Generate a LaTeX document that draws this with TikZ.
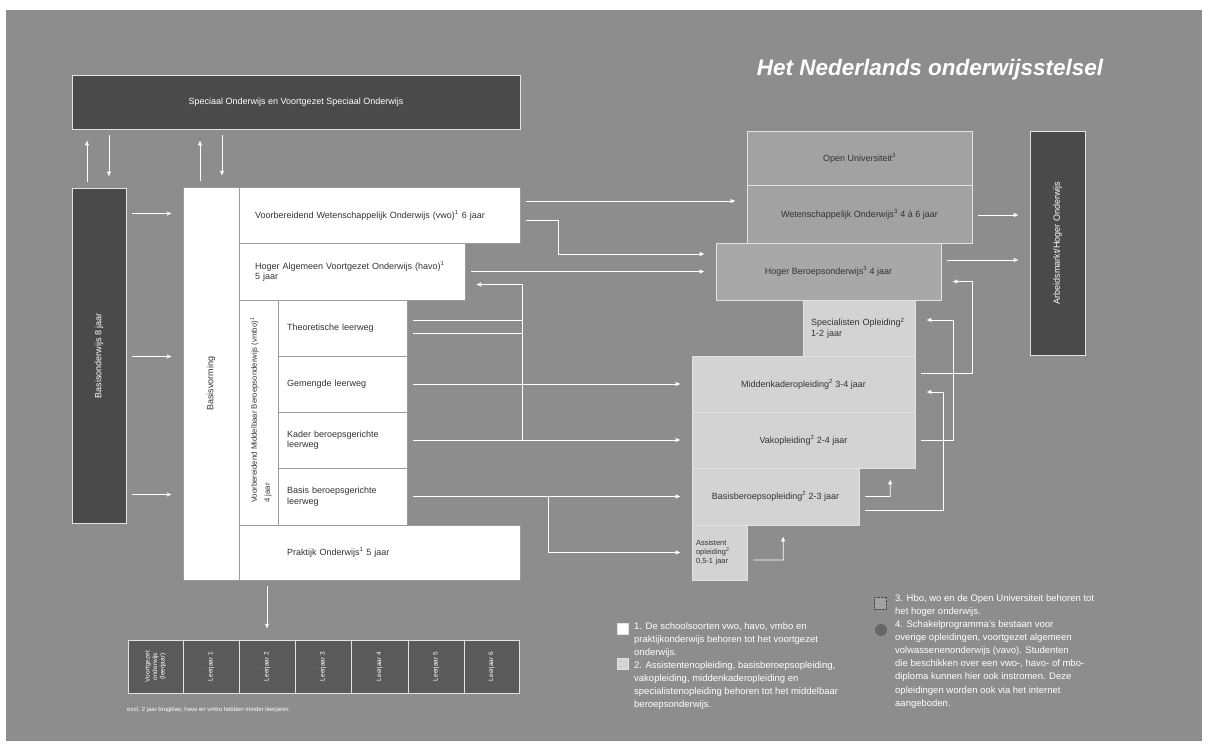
\documentclass[tikz,border=0pt]{standalone}
\usepackage{fontspec}
\setmainfont{Liberation Sans}
\usetikzlibrary{arrows.meta,calc}
\definecolor{bgC}{HTML}{8D8D8D}
\definecolor{darkC}{HTML}{4A4A4A}
\definecolor{rowC}{HTML}{5A5A5A}
\definecolor{woC}{HTML}{A2A2A2}
\definecolor{hboC}{HTML}{A8A8A8}
\definecolor{mboC}{HTML}{D3D3D3}
\definecolor{edgeC}{HTML}{E2E2E2}
\definecolor{sepC}{HTML}{9C9C9C}
\definecolor{txtC}{HTML}{333333}
\newcommand\ftn{\fontsize{9}{10.5}\selectfont}
\newcommand\fsm{\fontsize{6.5}{7.5}\selectfont}
\newcommand\flg{\fontsize{9.5}{13.2}\selectfont}
\begin{document}
\begin{tikzpicture}[x=1pt,y=-1pt,
  dark/.style={draw=edgeC, line width=0.6pt, fill=darkC, text=white, inner sep=0pt, font=\ftn},
  wcell/.style={draw=sepC, line width=0.5pt, fill=white, inner sep=0pt, font=\ftn, text=txtC},
  lcell/.style={wcell, align=left},
  wocell/.style={draw=edgeC, line width=0.7pt, fill=woC, inner sep=0pt, font=\ftn, text=txtC},
  hbocell/.style={wocell, fill=hboC},
  mbocell/.style={draw=edgeC, line width=0.6pt, fill=mboC, inner sep=0pt, font=\ftn, text=txtC},
  rowcell/.style={draw=edgeC, line width=0.5pt, fill=rowC, inner sep=0pt, minimum height=53pt},
  vtext/.style={rotate=90, inner sep=0pt},
  conn/.style={draw=white, line width=0.8pt, -{Latex[length=5pt,width=4.5pt]}, shorten >=11pt, shorten <=6pt},
  plain/.style={draw=white, line width=0.8pt}
]
\useasboundingbox (0,0) rectangle (1208,747);
\fill[white] (0,0) rectangle (1208,747);
\fill[bgC] (6,10) rectangle (1202,741);

% title
\node[text=white, font=\fontsize{22.5}{26}\selectfont\bfseries\itshape] (title) at (930,70) {Het Nederlands onderwijsstelsel};

% top bar
\node[dark, minimum width=448pt, minimum height=54pt] (sos) at (296,102) {Speciaal Onderwijs en Voortgezet Speciaal Onderwijs};

% Basisonderwijs
\node[dark, minimum width=54pt, minimum height=335pt] (basiso) at (99,355.5) {};
\node[vtext, text=white, font=\ftn] (basisotxt) at (basiso) {Basisonderwijs 8 jaar};

% white block
\node[wcell, minimum width=56pt, minimum height=393pt] (bv) at (211,383.5) {};
\node[vtext, font=\ftn, text=txtC] (bvtxt) at (bv) {Basisvorming};
\node[lcell, minimum height=56pt, inner xsep=16pt, text width=249pt] (vwo) at (379.5,215) {Voorbereidend Wetenschappelijk Onderwijs (vwo)\textsuperscript{1} 6 jaar};
\node[lcell, minimum height=57pt, inner xsep=16pt, text width=194pt] (havo) at (352,271.5) {Hoger Algemeen Voortgezet Onderwijs (havo)\textsuperscript{1}\\5 jaar};
\node[wcell, minimum width=39pt, minimum height=225pt] (vmbo) at (258.5,412.5) {};
\node[vtext, font=\fontsize{7.8}{13}\selectfont, text=txtC, align=left] (vmbotxt) at (261,410) {Voorbereidend Middelbaar Beroepsonderwijs (vmbo)\textsuperscript{1}\\4 jaar};
\node[lcell, minimum height=56pt, inner xsep=9pt, text width=111pt] (theo) at (342.5,328) {Theoretische leerweg};
\node[lcell, minimum height=56pt, inner xsep=9pt, text width=111pt] (gem) at (342.5,384) {Gemengde leerweg};
\node[lcell, minimum height=56pt, inner xsep=9pt, text width=111pt] (kader) at (342.5,440) {Kader beroepsgerichte\\leerweg};
\node[lcell, minimum height=57pt, inner xsep=9pt, text width=111pt] (basis) at (342.5,496.5) {Basis beroepsgerichte\\leerweg};
\node[lcell, minimum height=55pt, inner xsep=48pt, text width=185pt] (prak) at (379.5,552.5) {Praktijk Onderwijs\textsuperscript{1} 5 jaar};

% higher education
\node[wocell, minimum width=225pt, minimum height=54pt] (ou) at (859.5,158) {Open Universiteit\textsuperscript{3}};
\node[wocell, minimum width=225pt, minimum height=58pt] (wo) at (859.5,214) {Wetenschappelijk Onderwijs\textsuperscript{3} 4 à 6 jaar};
\node[hbocell, minimum width=225pt, minimum height=57pt] (hbo) at (828.5,271.5) {Hoger Beroepsonderwijs\textsuperscript{3} 4 jaar};

% mbo
\node[mbocell, minimum height=56pt, inner xsep=8pt, text width=96pt, align=left] (spec) at (859,328) {Specialisten Opleiding\textsuperscript{2}\\1-2 jaar};
\node[mbocell, minimum width=223pt, minimum height=56pt] (mk) at (803.5,384) {Middenkaderopleiding\textsuperscript{2} 3-4 jaar};
\node[mbocell, minimum width=223pt, minimum height=56pt] (vak) at (803.5,440) {Vakopleiding\textsuperscript{2} 2-4 jaar};
\node[mbocell, minimum width=167pt, minimum height=57pt] (bbo) at (775.5,496.5) {Basisberoepsopleiding\textsuperscript{2} 2-3 jaar};
\node[mbocell, minimum height=55pt, inner xsep=4pt, text width=47pt, align=left, font=\fontsize{7.5}{9}\selectfont] (ass) at (719.5,552.5) {Assistent\\opleiding\textsuperscript{2}\\0,5-1 jaar};

% arbeidsmarkt
\node[dark, minimum width=55pt, minimum height=224pt] (arb) at (1057.5,243) {};
\node[vtext, text=white, font=\ftn] (arbtxt) at (arb) {Arbeidsmarkt/Hoger Onderwijs};

% bottom row
\foreach \i/\a/\b/\t in {1/128/183/{Voortgezet\\onderwijs\\(leerjaar)},2/183/239/{Leerjaar 1},3/239/295/{Leerjaar 2},4/295/351/{Leerjaar 3},5/351/408/{Leerjaar 4},6/408/464/{Leerjaar 5},7/464/519/{Leerjaar 6}}{
  \node[rowcell, minimum width={(\b-\a)*1pt}] (c\i) at ({(\a+\b)/2},666.5) {};
  \node[vtext, text=white, font=\fsm, align=center] (ct\i) at (c\i) {\t};
}
\node[anchor=west, text=white, font=\fontsize{6}{7}\selectfont, inner sep=0pt] (note) at (127,710) {excl. 2 jaar brugklas; havo en vmbo hebben minder leerjaren};

% legend
\node[draw=edgeC, fill=white, minimum size=11pt, inner sep=0pt] (sq1) at (622.5,628.5) {};
\node[anchor=north west, inner sep=0pt, text=white, font=\flg, align=left] (leg1) at (634,622) {1. De schoolsoorten vwo, havo, vmbo en\\praktijkonderwijs behoren tot het voortgezet\\onderwijs.};
\node[draw=edgeC, fill=mboC, minimum size=11pt, inner sep=0pt] (sq2) at (622.5,663.5) {};
\node[anchor=north west, inner sep=0pt, text=white, font=\flg, align=left] (leg2) at (634,661) {2. Assistentenopleiding, basisberoepsopleiding,\\vakopleiding, middenkaderopleiding en\\specialistenopleiding behoren tot het middelbaar\\beroepsonderwijs.};
\node[draw=darkC, densely dotted, fill=woC, minimum size=12pt, inner sep=0pt] (sq3) at (880.5,603) {};
\node[anchor=north west, inner sep=0pt, text=white, font=\flg, align=left] (leg3) at (895,594) {3. Hbo, wo en de Open Universiteit behoren tot\\het hoger onderwijs.};
\node[circle, fill=gray!80!black, minimum size=12pt, inner sep=0pt] (sym4) at (881,630) {};
\node[anchor=north west, inner sep=0pt, text=white, font=\flg, align=left] (leg4) at (895,620) {4. Schakelprogramma's bestaan voor\\overige opleidingen, voortgezet algemeen\\volwassenenonderwijs (vavo). Studenten\\die beschikken over een vwo-, havo- of mbo-\\diploma kunnen hier ook instromen. Deze\\opleidingen worden ook via het internet\\aangeboden.};

% connectors: top bar
\draw[conn] ([xshift=-12pt]basiso.north) -- ([xshift=-12pt]basiso.north |- sos.south);
\draw[conn] ([xshift=10pt]basiso.north |- sos.south) -- ([xshift=10pt]basiso.north);
\draw[conn] ([xshift=-11pt]bv.north) -- ([xshift=-11pt]bv.north |- sos.south);
\draw[conn] ([xshift=11pt]bv.north |- sos.south) -- ([xshift=11pt]bv.north);

% basisonderwijs -> voortgezet
\foreach \s in {142,-1,-139}{
  \draw[conn] ([yshift=\s pt]basiso.east) -- ([yshift=\s pt]basiso.east -| bv.west);
}

% vo -> ho
\draw[conn] ([yshift=14pt]vwo.east) -- ([yshift=14pt]vwo.east -| wo.west);
\draw[conn] ([yshift=-5pt]vwo.east) -- ++(38pt,0) |- ([yshift=17.5pt]hbo.west);
\draw[conn] (havo.east) -- (havo.east -| hbo.west);
\draw[conn] ([yshift=8pt]theo.east) -- ++(115pt,0) |- ([yshift=-13pt]havo.east);
\draw[plain, shorten <=6pt] ([yshift=-5pt]theo.east) -- ++(115pt,0);
\draw[plain, shorten <=6pt] (kader.east) -- ++(115pt,0) -- ([xshift=115pt,yshift=8pt]theo.east);
\draw[conn] (gem.east) -- (gem.east -| mk.west);
\draw[conn] (kader.east) -- (kader.east -| vak.west);
\draw[conn] (basis.east) -- (basis.east -| bbo.west);
\draw[conn, shorten <=0pt] ([xshift=141pt]basis.east) |- (ass.west);
\draw[conn] (c3.north |- prak.south) -- (c3.north);

% ho -> arbeidsmarkt
\draw[conn] ([yshift=-1pt]wo.east) -- ([yshift=-1pt]wo.east -| arb.west);
\draw[conn] ([yshift=11.5pt]hbo.east) -- ([yshift=11.5pt]hbo.east -| arb.west);

% mbo internal
\draw[conn] ([yshift=11pt]mk.east) -- ++(57pt,0) |- ([yshift=-10pt]hbo.east);
\draw[conn] (vak.east) -- ++(38pt,0) |- ([yshift=8pt]spec.east);
\draw[conn] ([yshift=-13.5pt]bbo.east) -- ++(84pt,0) |- ([yshift=-8pt]mk.east);
\draw[conn] (bbo.east) -- ++(31pt,0) -- ([xshift=86.5pt]vak.south);
\draw[conn] ([yshift=-7.5pt]ass.east) -- ++(36pt,0) -- ([xshift=7.5pt]bbo.south);
\end{tikzpicture}
\end{document}
